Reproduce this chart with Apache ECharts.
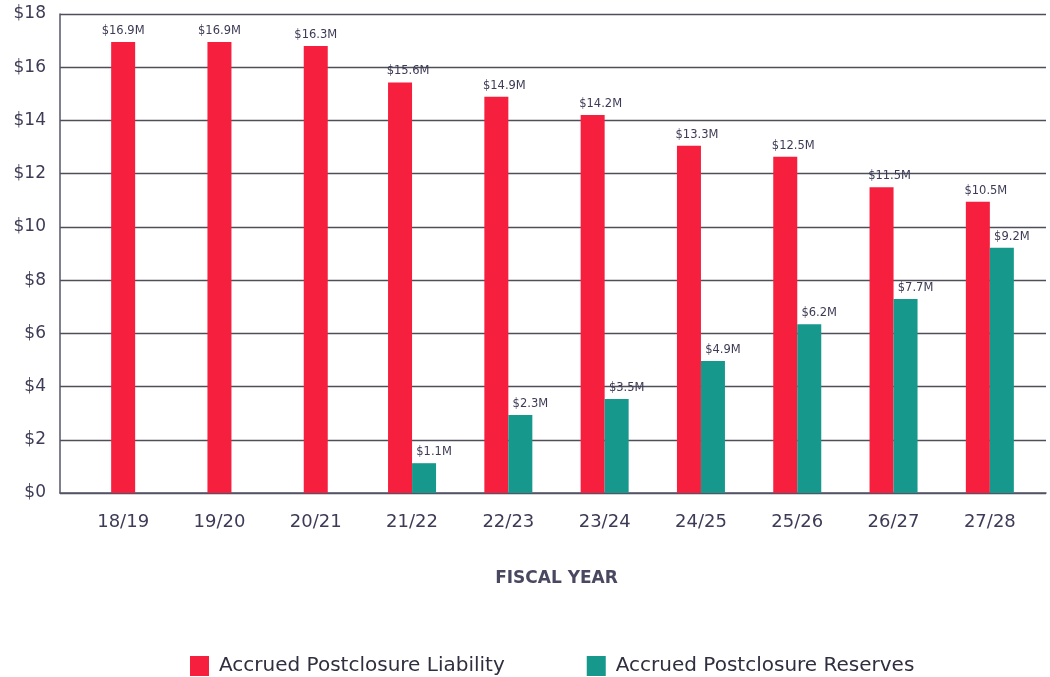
<!DOCTYPE html>
<html>
<head>
<meta charset="utf-8">
<script src="https://cdn.jsdelivr.net/npm/echarts@6/dist/echarts.min.js"></script>
<style>
  html, body { margin: 0; padding: 0; background: #fff; }
  #chart { width: 1050px; height: 677px; }
</style>
</head>
<body>
<div id="chart"></div>
<script>
var years = ['18/19', '19/20', '20/21', '21/22', '22/23', '23/24', '24/25', '25/26', '26/27', '27/28'];
// bar heights as drawn
var liability = [16.95, 16.95, 16.8, 15.43, 14.89, 14.2, 13.05, 12.64, 11.49, 10.94];
var reserves = [null, null, null, 1.12, 2.93, 3.53, 4.96, 6.34, 7.29, 9.22];
// printed labels
var liabilityLabels = ['$16.9M', '$16.9M', '$16.3M', '$15.6M', '$14.9M', '$14.2M', '$13.3M', '$12.5M', '$11.5M', '$10.5M'];
var reserveLabels = ['', '', '', '$1.1M', '$2.3M', '$3.5M', '$4.9M', '$6.2M', '$7.7M', '$9.2M'];
var yTicks = [0, 2, 4, 6, 8, 10, 12, 14, 16, 18];
var soloCount = 3; // first years have no reserves, bar is centred

var RED = '#f61f3e', TEAL = '#16998c', TXT = '#3d3b55';
var FONT = '"DejaVu Sans", "Open Sans", sans-serif';
var LINE = { color: '#4f4f5c', width: 1.4 };

// split liability into the centred years and the paired years
var liabSolo = liability.map(function (v, i) { return i < soloCount ? v : null; });
var liabPair = liability.map(function (v, i) { return i < soloCount ? null : v; });

function labelOf(arr, dx) {
  return {
    show: true, position: 'top', distance: 5, offset: [dx, 0],
    color: TXT, fontFamily: FONT, fontSize: 11.5,
    formatter: function (p) { return arr[p.dataIndex]; }
  };
}

var chart = echarts.init(document.getElementById('chart'));
chart.setOption({
  animation: false,
  textStyle: { fontFamily: FONT },
  grid: [
    { left: 75, top: 14, width: 963, height: 479 },   // bars
    { left: 60, top: 14, right: 4, height: 479 }      // frame and gridlines
  ],
  legend: {
    top: 651, left: 185, itemGap: 82,
    itemWidth: 19, itemHeight: 20, icon: 'rect',
    textStyle: { fontSize: 20, color: '#2f2f3f', fontFamily: FONT, padding: [0, 0, 0, 5] },
    data: ['Accrued Postclosure Liability', 'Accrued Postclosure Reserves']
  },
  xAxis: [{
    type: 'category', data: years, gridIndex: 0,
    axisLine: { show: false },
    axisTick: { show: false },
    axisLabel: { color: TXT, fontSize: 18, margin: 20, fontFamily: FONT },
    name: 'FISCAL YEAR', nameLocation: 'middle', nameGap: 77,
    nameTextStyle: { color: '#4a4860', fontSize: 17, fontWeight: 'bold', fontFamily: FONT }
  }, {
    type: 'category', data: years, gridIndex: 0, show: false
  }, {
    type: 'value', gridIndex: 1, min: 0, max: 1,
    axisLine: { show: true, lineStyle: { color: '#55556a', width: 1.5 } },
    axisTick: { show: false }, axisLabel: { show: false }, splitLine: { show: false }
  }],
  yAxis: [{
    type: 'value', gridIndex: 0, min: 0, max: 18, interval: 2,
    axisLine: { show: false }, axisTick: { show: false },
    axisLabel: { show: false }, splitLine: { show: false }
  }, {
    type: 'value', gridIndex: 1, min: 0, max: 18, interval: 2,
    axisLine: { show: true, lineStyle: { color: '#55556a', width: 1.5 } },
    axisTick: { show: false },
    axisLabel: {
      color: TXT, fontSize: 17, margin: 14, fontFamily: FONT,
      formatter: function (v) { return yTicks.indexOf(v) >= 0 ? '$' + v : ''; }
    },
    splitLine: { show: true, lineStyle: LINE }
  }],
  series: [{
    name: 'Accrued Postclosure Liability', type: 'bar',
    data: liabPair, barWidth: 24, barGap: '0%', z: 3,
    itemStyle: { color: RED }, label: labelOf(liabilityLabels, 8)
  }, {
    name: 'Accrued Postclosure Reserves', type: 'bar',
    data: reserves, barWidth: 24, barGap: '0%', z: 3,
    itemStyle: { color: TEAL }, label: labelOf(reserveLabels, 10)
  }, {
    name: 'Accrued Postclosure Liability', type: 'bar',
    xAxisIndex: 1, data: liabSolo, barWidth: 24, z: 3,
    itemStyle: { color: RED }, label: labelOf(liabilityLabels, 0)
  }]
});
</script>
</body>
</html>
